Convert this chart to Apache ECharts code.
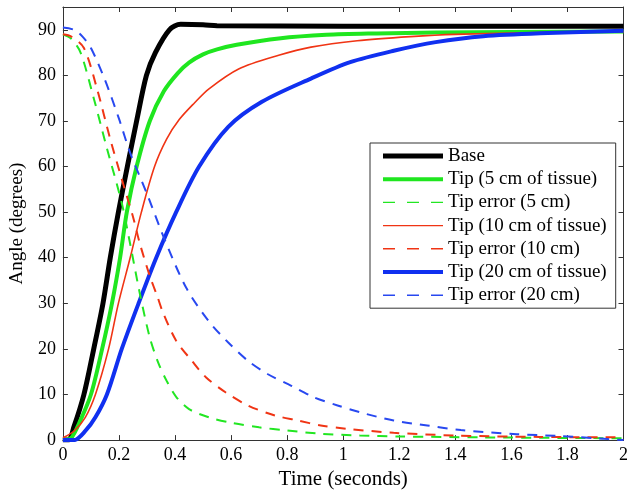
<!DOCTYPE html>
<html>
<head>
<meta charset="utf-8">
<script src="https://cdn.jsdelivr.net/npm/echarts@6/dist/echarts.min.js"></script>
<style>
  html, body { margin: 0; padding: 0; background: #fff; }
  #chart { width: 631px; height: 495px; }
</style>
</head>
<body>
<div id="chart"></div>
<script>
// [time (s), angle (deg)]
const base = [[0, 0], [0.02, 0], [0.04, 3], [0.075, 10], [0.11, 20], [0.143, 30], [0.169, 40],
  [0.198, 50], [0.23, 60], [0.263, 70], [0.298, 80], [0.33, 85], [0.38, 90], [0.42, 91.2],
  [0.5, 91.1], [0.55, 90.9], [1.0, 90.8], [2.0, 90.8]];

const tip5 = [[0, 0], [0.03, 0.5], [0.06, 4], [0.1, 10], [0.14, 20], [0.175, 30], [0.204, 40],
  [0.228, 50], [0.263, 60], [0.31, 70], [0.36, 76.5], [0.41, 80.5], [0.45, 82.8], [0.5, 84.6],
  [0.55, 85.7], [0.62, 86.7], [0.77, 88.1], [0.94, 88.9], [1.12, 89.2], [1.33, 89.4],
  [1.6, 89.5], [2.0, 89.6]];

const tipErr5 = [[0, 89], [0.03, 88], [0.063, 85], [0.11, 75], [0.157, 64], [0.21, 52],
  [0.24, 43], [0.275, 32], [0.31, 22.5], [0.34, 17], [0.37, 13], [0.404, 9.5], [0.45, 6.8],
  [0.52, 5], [0.6, 3.8], [0.7, 2.8], [0.8, 2.1], [0.92, 1.4], [1.06, 1.0], [1.2, 0.8],
  [1.5, 0.6], [2.0, 0.4]];

const tip10 = [[0, 0.5], [0.04, 2], [0.08, 5], [0.116, 10], [0.163, 20], [0.198, 30], [0.24, 40],
  [0.28, 50], [0.327, 60], [0.37, 66], [0.415, 70.3], [0.47, 74], [0.52, 77], [0.627, 81.4],
  [0.77, 84.4], [0.885, 86.2], [1.05, 87.6], [1.24, 88.5], [1.4, 89], [1.7, 89.4], [2.0, 89.6]];

const tipErr10 = [[0, 89], [0.03, 88.5], [0.075, 86], [0.122, 77], [0.169, 66], [0.216, 56],
  [0.25, 49], [0.275, 43], [0.31, 36], [0.337, 31.5], [0.357, 28], [0.404, 21.8], [0.46, 17.4],
  [0.51, 13.8], [0.58, 10.5], [0.66, 7.6], [0.756, 5.4], [0.84, 4.3], [0.92, 3.2], [1.01, 2.5],
  [1.18, 1.6], [1.4, 1.0], [1.7, 0.7], [2.0, 0.6]];

const tip20 = [[0, 0], [0.04, 0], [0.08, 2], [0.116, 5], [0.157, 10], [0.21, 20], [0.27, 30],
  [0.333, 40], [0.404, 50], [0.486, 60], [0.59, 68.7], [0.71, 74.2], [0.885, 79.3], [1.025, 82.9],
  [1.18, 85.4], [1.33, 87.3], [1.5, 88.6], [1.73, 89.3], [2.0, 89.8]];

const tipErr20 = [[0, 90.5], [0.04, 90], [0.07, 88.5], [0.1, 86], [0.15, 79], [0.2, 70.5],
  [0.24, 63], [0.3, 54], [0.363, 44], [0.44, 33.4], [0.52, 26.1], [0.59, 21.4], [0.66, 17.4],
  [0.73, 14.5], [0.815, 11.9], [0.895, 9.4], [0.98, 7.6], [1.06, 6.1], [1.18, 4.3], [1.3, 3.2],
  [1.42, 2.2], [1.62, 1.3], [1.77, 0.9], [1.9, 0.4], [2.0, 0]];

const seriesNames = ["Base", "Tip (5 cm of tissue)", "Tip error (5 cm)", "Tip (10 cm of tissue)",
  "Tip error (10 cm)", "Tip (20 cm of tissue)", "Tip error (20 cm)"];

const FONT = "Liberation Serif";
const DASH = [10, 8];
const LEGEND_DASH = [12, 12];

const styles = [
  { data: base, color: "#000000", width: 5, legendWidth: 5, dashed: false },
  { data: tip5, color: "#1fe61f", width: 4, legendWidth: 4, dashed: false },
  { data: tipErr5, color: "#22e622", width: 2, legendWidth: 1.4, dashed: true },
  { data: tip10, color: "#f03414", width: 1.6, legendWidth: 1.4, dashed: false },
  { data: tipErr10, color: "#f03414", width: 2, legendWidth: 1.4, dashed: true },
  { data: tip20, color: "#1030f0", width: 4, legendWidth: 4, dashed: false },
  { data: tipErr20, color: "#2848f0", width: 2, legendWidth: 1.4, dashed: true },
];

const series = styles.map((s, i) => ({
  name: seriesNames[i],
  type: "line",
  data: s.data,
  smooth: 0.3,
  symbol: "none",
  lineStyle: { color: s.color, width: s.width, type: s.dashed ? DASH : "solid" },
  itemStyle: { color: s.color },
  z: s.dashed ? 3 : 2,
}));

const legendData = styles.map((s, i) => ({
  name: seriesNames[i],
  lineStyle: { color: s.color, width: s.legendWidth, type: s.dashed ? LEGEND_DASH : "solid" },
}));

const frameAxis = (extra) => ({
  type: "value",
  axisLine: { show: true, onZero: false, lineStyle: { color: "#333", width: 1 } },
  axisTick: { show: true, inside: true, length: 5, lineStyle: { color: "#333" } },
  splitLine: { show: false },
  ...extra,
});

const chart = echarts.init(document.getElementById("chart"));
chart.setOption({
  animation: false,
  backgroundColor: "#fff",
  textStyle: { fontFamily: FONT },
  grid: { left: 62, right: 2, top: 7, bottom: 52 },
  xAxis: [
    frameAxis({
      position: "bottom", min: 0, max: 2, interval: 0.2,
      name: "Time (seconds)", nameLocation: "middle", nameGap: 28,
      nameTextStyle: { fontFamily: FONT, fontSize: 21, color: "#000" },
      axisLabel: { fontFamily: FONT, fontSize: 18, color: "#000", margin: 6 },
    }),
    frameAxis({
      position: "top", min: 0, max: 2, interval: 0.2,
      axisLabel: { show: false },
    }),
  ],
  yAxis: [
    frameAxis({
      position: "left", min: 0, max: 95, interval: 10,
      name: "Angle (degrees)", nameLocation: "middle", nameGap: 34, nameRotate: 90,
      nameTextStyle: { fontFamily: FONT, fontSize: 19, color: "#000" },
      axisLabel: { fontFamily: FONT, fontSize: 18, color: "#000", margin: 7, showMaxLabel: false },
    }),
    frameAxis({
      position: "right", min: 0, max: 95, interval: 10,
      axisLabel: { show: false },
    }),
  ],
  legend: {
    data: legendData,
    orient: "vertical",
    left: 370,
    top: 143,
    padding: [3.5, 9, 3.5, 10.5],
    itemWidth: 60,
    itemHeight: 14,
    itemGap: 4.2,
    itemStyle: { opacity: 0 },
    backgroundColor: "#fff",
    borderColor: "#333",
    borderWidth: 1,
    borderRadius: 0,
    textStyle: { fontFamily: FONT, fontSize: 19, color: "#000", padding: [0, 0, 0, 0] },
  },
  series,
});
</script>
</body>
</html>
